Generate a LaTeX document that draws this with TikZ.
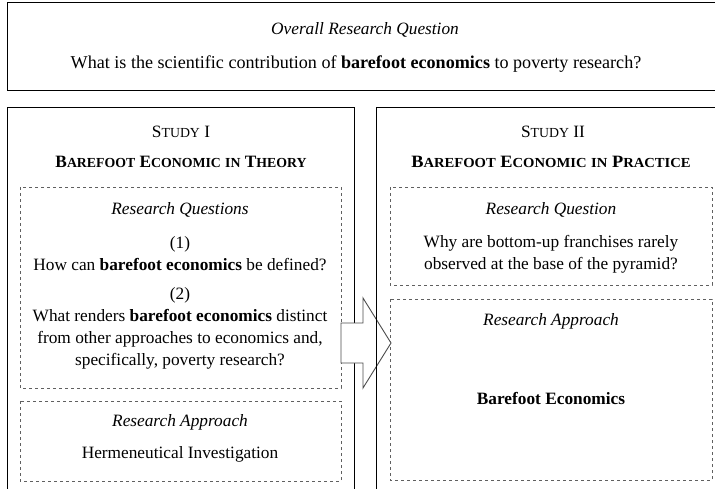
\documentclass[tikz,border=0pt]{standalone}
\usepackage{fontspec}
\setmainfont{Liberation Serif}
\newcommand{\fakesc}[2]{#1{\fontsize{13.8}{16}\selectfont #2}}
\newcommand{\scsmall}[1]{{\fontsize{13.8}{16}\selectfont #1}}
\begin{document}
\begin{tikzpicture}[x=1pt,y=-1pt,
  txt/.style={font=\fontsize{17.3}{22}\selectfont, align=center, inner sep=0pt, anchor=center},
  solidbox/.style={draw=black, line width=1pt},
  dashbox/.style={draw=gray!75!black, dashed, line width=0.8pt},
  bigarrow/.style={draw=gray!60!black, fill=white, line width=0.9pt, line join=miter}]
\useasboundingbox (0,0) rectangle (715,489);

% top box
\draw[solidbox] (716,2.5) -- (7,2.5) -- (7,91) -- (716,91);
\node[txt] (oq) at (365,30) {\textit{Overall Research Question}};
\node[txt, font=\fontsize{18.1}{22}\selectfont] (mq) at (356,64.5) {What is the scientific contribution of \textbf{barefoot economics} to poverty research?};

% left study
\draw[solidbox] (7,491) -- (7,108) -- (354,108) -- (354,491);
\node[txt] (s1) at (181,132) {\fakesc{S}{TUDY} I};
\node[txt] (t1) at (181,161.5) {\textbf{\fakesc{B}{AREFOOT} \fakesc{E}{CONOMIC} \scsmall{IN} \fakesc{T}{HEORY}}};

\draw[dashbox] (20,187) rectangle (341,388);
\node[txt] (rq1) at (180,209.5) {\textit{Research Questions}};
\node[txt] (q1) at (180,253.5) {(1)\\How can \textbf{barefoot economics} be defined?};
\node[txt] (q2) at (180,328.5) {(2)\\What renders \textbf{barefoot economics} distinct\\from other approaches to economics and,\\specifically, poverty research?};

\draw[dashbox] (20,401) rectangle (341,481);
\node[txt] (ra1) at (180,422.5) {\textit{Research Approach}};
\node[txt] (hi) at (180,454.5) {Hermeneutical Investigation};

% arrow
\draw[bigarrow] (341,323) -- (363,323) -- (363,298) -- (391,343) -- (363,388) -- (363,363) -- (341,363) -- cycle;

% right study
\draw[solidbox] (716,108) -- (376,108) -- (376,491);
\node[txt] (s2) at (553,132) {\fakesc{S}{TUDY} II};
\node[txt] (t2) at (551,161.5) {\scalebox{1.06}[1]{\textbf{\fakesc{B}{AREFOOT} \fakesc{E}{CONOMIC} \scsmall{IN} \fakesc{P}{RACTICE}}}};

\draw[dashbox] (390,187) rectangle (712,285);
\node[txt] (rq2) at (551,209.5) {\textit{Research Question}};
\node[txt] (q3) at (551,254.5) {Why are bottom-up franchises rarely\\observed at the base of the pyramid?};

\draw[dashbox] (390,299) rectangle (712,480);
\node[txt] (ra2) at (551,321.5) {\textit{Research Approach}};
\node[txt] (be) at (551,398.5) {\textbf{Barefoot Economics}};
\end{tikzpicture}
\end{document}
